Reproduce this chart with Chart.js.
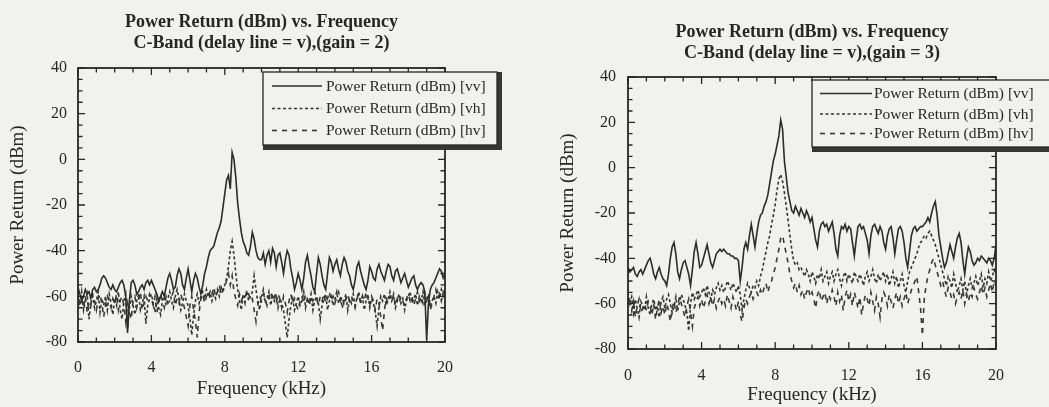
<!DOCTYPE html>
<html>
<head>
<meta charset="utf-8">
<script src="https://cdn.jsdelivr.net/npm/chart.js@4.4.1/dist/chart.umd.min.js"></script>
<style>
  html, body { margin: 0; padding: 0; width: 1049px; height: 407px; overflow: hidden; background: #f1f1ef; }
  canvas { position: absolute; top: 0; }
  #gain2 { left: 0; }
  #gain3 { left: 524px; }
</style>
</head>
<body>
<canvas id="gain2" width="524" height="407"></canvas>
<canvas id="gain3" width="525" height="407"></canvas>
<script>
// Spectra sampled every 0.1 kHz from 0 to 20 kHz (201 samples per trace).
const FREQ_STEP_KHZ = 0.1;

const seriesLabels = ['Power Return (dBm) [vv]', 'Power Return (dBm) [vh]', 'Power Return (dBm) [hv]'];
const titleGain2 = ['Power Return (dBm) vs. Frequency', 'C-Band (delay line = v),(gain = 2)'];
const titleGain3 = ['Power Return (dBm) vs. Frequency', 'C-Band (delay line = v),(gain = 3)'];
const xAxisTitle = 'Frequency (kHz)';
const yAxisTitle = 'Power Return (dBm)';
const xRange = [0, 20];
const yRange = [-80, 40];
const xTickStep = 4;
const yTickStep = 20;

// gain = 2
const gain2_vv = [
  -56,-59,-62,-60,-57,-59,-58,-61,-57,-56,
  -58,-57,-55,-52,-51,-52,-54,-56,-57,-55,
  -57,-58,-56,-54,-53,-55,-60,-76,-62,-54,
  -53,-55,-59,-58,-56,-55,-57,-54,-53,-55,
  -53,-55,-57,-59,-62,-60,-58,-60,-56,-52,
  -50,-53,-57,-56,-51,-48,-50,-55,-57,-52,
  -48,-53,-58,-53,-50,-52,-56,-59,-55,-50,
  -47,-43,-40,-39,-38,-35,-32,-30,-27,-21,
  -15,-9,-7,-13,3,0,-8,-19,-26,-32,
  -36,-38,-41,-42,-38,-32,-35,-40,-43,-44,
  -44,-41,-46,-42,-40,-45,-39,-41,-47,-42,
  -41,-45,-50,-44,-40,-42,-48,-52,-57,-54,
  -50,-53,-57,-52,-45,-42,-47,-51,-56,-58,
  -50,-43,-46,-51,-55,-57,-50,-43,-45,-49,
  -46,-44,-48,-51,-46,-43,-45,-49,-51,-55,
  -57,-53,-47,-45,-49,-52,-55,-57,-53,-47,
  -49,-52,-53,-48,-46,-49,-51,-53,-49,-46,
  -47,-51,-53,-49,-48,-51,-54,-52,-50,-53,
  -56,-54,-52,-51,-55,-57,-55,-54,-55,-58,
  -79,-63,-57,-55,-54,-52,-50,-48,-49,-52,
  -50
];
const gain2_vh = [
  -60,-64,-58,-66,-62,-59,-70,-63,-60,-65,
  -62,-58,-67,-61,-64,-60,-66,-59,-63,-68,
  -61,-64,-58,-66,-70,-62,-59,-74,-65,-60,
  -64,-68,-62,-59,-66,-63,-60,-72,-64,-61,
  -59,-63,-67,-61,-65,-68,-62,-60,-64,-61,
  -58,-62,-65,-60,-57,-61,-66,-63,-59,-62,
  -64,-70,-77,-68,-62,-59,-63,-60,-58,-61,
  -57,-60,-58,-62,-59,-61,-57,-60,-56,-58,
  -55,-52,-47,-40,-36,-42,-50,-57,-62,-66,
  -59,-61,-58,-62,-60,-58,-51,-57,-63,-66,
  -60,-57,-63,-61,-58,-64,-60,-62,-59,-65,
  -61,-63,-66,-72,-78,-70,-64,-61,-66,-63,
  -60,-64,-62,-58,-65,-61,-63,-59,-66,-62,
  -60,-63,-70,-64,-61,-59,-66,-62,-60,-64,
  -61,-58,-63,-60,-65,-62,-59,-66,-61,-63,
  -59,-64,-61,-58,-63,-60,-66,-62,-59,-65,
  -61,-63,-67,-73,-65,-60,-62,-59,-64,-61,
  -58,-62,-60,-65,-62,-59,-63,-61,-66,-62,
  -60,-58,-63,-61,-59,-64,-60,-62,-58,-63,
  -61,-59,-64,-62,-60,-63,-58,-61,-57,-60,
  -58
];
const gain2_hv = [
  -57,-63,-61,-65,-60,-67,-62,-64,-59,-62,
  -66,-61,-59,-63,-69,-64,-60,-62,-65,-61,
  -63,-59,-66,-62,-60,-64,-71,-63,-67,-70,
  -62,-60,-65,-61,-58,-66,-63,-60,-62,-59,
  -61,-64,-60,-67,-63,-59,-62,-65,-60,-63,
  -62,-60,-58,-64,-61,-63,-59,-62,-65,-69,
  -73,-64,-60,-66,-71,-78,-67,-61,-59,-63,
  -60,-58,-61,-59,-56,-60,-58,-55,-59,-57,
  -56,-53,-50,-55,-51,-58,-61,-64,-59,-62,
  -60,-63,-57,-59,-62,-61,-66,-71,-64,-60,
  -62,-59,-61,-64,-60,-58,-62,-60,-63,-59,
  -61,-65,-60,-63,-67,-62,-59,-63,-61,-64,
  -66,-62,-60,-63,-59,-61,-64,-60,-62,-58,
  -61,-64,-60,-62,-59,-63,-61,-58,-62,-60,
  -63,-60,-58,-62,-60,-64,-61,-59,-62,-60,
  -62,-65,-61,-59,-63,-60,-62,-58,-61,-64,
  -60,-62,-66,-61,-63,-69,-75,-66,-61,-63,
  -60,-62,-59,-64,-61,-63,-60,-62,-64,-61,
  -59,-62,-60,-64,-61,-58,-62,-60,-63,-59,
  -62,-60,-66,-63,-60,-57,-61,-59,-62,-58,
  -60
];

// gain = 3
const gain3_vv = [
  -44,-46,-45,-44,-47,-48,-46,-45,-47,-45,
  -43,-41,-40,-43,-47,-49,-46,-44,-47,-49,
  -50,-52,-47,-40,-35,-33,-38,-46,-49,-45,
  -42,-41,-44,-47,-52,-45,-37,-33,-38,-44,
  -43,-40,-37,-34,-38,-42,-44,-41,-38,-37,
  -36,-37,-36,-37,-38,-38,-39,-39,-40,-40,
  -41,-50,-44,-36,-33,-36,-30,-25,-30,-35,
  -29,-24,-21,-20,-17,-15,-12,-7,-2,3,
  6,10,14,21,17,3,-4,-11,-15,-19,
  -20,-17,-19,-21,-18,-20,-22,-19,-21,-24,
  -22,-27,-32,-35,-28,-25,-24,-26,-25,-28,
  -26,-24,-29,-36,-39,-30,-26,-27,-25,-28,
  -26,-27,-33,-39,-32,-26,-25,-27,-26,-29,
  -32,-38,-30,-26,-25,-27,-29,-26,-28,-33,
  -36,-30,-27,-26,-31,-38,-32,-27,-26,-28,
  -33,-40,-44,-37,-30,-27,-26,-28,-27,-26,
  -26,-25,-24,-22,-24,-20,-17,-15,-21,-30,
  -35,-40,-44,-42,-38,-34,-37,-40,-35,-31,
  -29,-33,-41,-47,-40,-35,-37,-41,-43,-42,
  -40,-41,-39,-40,-41,-42,-40,-41,-43,-40,
  -34
];
const gain3_vh = [
  -55,-60,-57,-64,-58,-62,-66,-59,-61,-63,
  -57,-62,-65,-60,-58,-63,-61,-66,-59,-57,
  -62,-58,-56,-60,-64,-61,-57,-63,-59,-56,
  -58,-61,-64,-72,-60,-55,-58,-56,-54,-57,
  -55,-53,-56,-52,-55,-58,-54,-56,-53,-51,
  -54,-52,-55,-53,-50,-52,-54,-51,-53,-55,
  -52,-56,-63,-58,-54,-51,-53,-55,-52,-53,
  -50,-52,-48,-45,-41,-37,-33,-30,-25,-21,
  -16,-10,-5,-3,-6,-11,-17,-23,-30,-36,
  -41,-43,-42,-45,-44,-46,-48,-45,-47,-50,
  -46,-48,-51,-47,-49,-45,-50,-48,-46,-51,
  -48,-46,-50,-47,-45,-49,-52,-48,-46,-50,
  -47,-49,-51,-46,-48,-50,-47,-49,-52,-48,
  -46,-50,-48,-45,-49,-51,-47,-50,-48,-46,
  -50,-47,-52,-49,-46,-51,-48,-53,-50,-47,
  -52,-55,-50,-46,-44,-42,-40,-38,-35,-33,
  -32,-30,-31,-29,-28,-30,-32,-34,-37,-40,
  -43,-46,-49,-52,-48,-50,-53,-47,-51,-55,
  -52,-49,-54,-50,-56,-52,-49,-53,-51,-48,
  -52,-50,-47,-53,-49,-51,-46,-50,-48,-45,
  -47
];
const gain3_hv = [
  -60,-57,-63,-59,-66,-61,-58,-64,-62,-60,
  -63,-59,-61,-65,-60,-67,-62,-58,-64,-61,
  -65,-60,-63,-68,-62,-59,-64,-61,-57,-60,
  -63,-66,-61,-58,-64,-70,-62,-59,-57,-61,
  -58,-62,-59,-56,-60,-57,-61,-58,-62,-59,
  -57,-60,-58,-61,-56,-59,-62,-57,-60,-63,
  -59,-65,-68,-62,-58,-60,-57,-55,-58,-56,
  -55,-57,-54,-56,-53,-51,-55,-52,-50,-47,
  -44,-40,-36,-31,-30,-34,-38,-42,-47,-50,
  -53,-51,-55,-52,-56,-54,-58,-55,-53,-57,
  -55,-58,-62,-56,-54,-59,-57,-55,-60,-56,
  -58,-54,-57,-61,-55,-59,-56,-63,-57,-54,
  -59,-56,-61,-55,-58,-62,-57,-65,-60,-56,
  -58,-61,-55,-59,-63,-57,-60,-66,-58,-55,
  -57,-61,-56,-59,-62,-58,-55,-60,-57,-61,
  -58,-55,-60,-57,-54,-52,-50,-48,-55,-62,
  -74,-58,-52,-48,-45,-42,-40,-43,-46,-49,
  -52,-50,-54,-57,-53,-55,-58,-56,-60,-57,
  -55,-58,-54,-60,-56,-59,-55,-57,-53,-56,
  -58,-55,-52,-56,-53,-57,-54,-51,-55,-50,
  -52
];

const INK = '#262626';
const PAPER = '#f1f1ef';
const SERIF = '"Liberation Serif", "Times New Roman", serif';

Chart.defaults.font.family = SERIF;
Chart.defaults.color = INK;

function toPoints(values) {
  return values.map((v, i) => ({ x: Math.round(i * FREQ_STEP_KHZ * 10) / 10, y: v }));
}

// Frame, inward tick marks on all four sides, centred title and boxed legend.
const panelDecor = {
  id: 'panelDecor',
  afterDraw(chart, args, opts) {
    const { ctx, chartArea: a } = chart;
    const x = chart.scales.x, y = chart.scales.y;
    ctx.save();

    // title
    ctx.fillStyle = INK;
    ctx.font = 'bold 18px ' + SERIF;
    ctx.textAlign = 'center';
    ctx.textBaseline = 'alphabetic';
    const cx = (a.left + a.right) / 2;
    opts.title.forEach((t, i) => ctx.fillText(t, cx, opts.titleBaselines[i]));

    // frame
    ctx.strokeStyle = INK;
    ctx.lineWidth = 1.8;
    ctx.strokeRect(a.left, a.top, a.right - a.left, a.bottom - a.top);

    // ticks: 1 kHz minor / 4 kHz major, 5 dB minor / 20 dB major
    ctx.lineWidth = 1.3;
    ctx.beginPath();
    for (let f = xRange[0]; f <= xRange[1]; f += 1) {
      const px = x.getPixelForValue(f);
      const len = f % xTickStep === 0 ? 7 : 4.5;
      ctx.moveTo(px, a.bottom); ctx.lineTo(px, a.bottom - len);
      ctx.moveTo(px, a.top); ctx.lineTo(px, a.top + len);
    }
    for (let v = yRange[0]; v <= yRange[1]; v += 5) {
      const py = y.getPixelForValue(v);
      const len = v % yTickStep === 0 ? 7 : 4.5;
      ctx.moveTo(a.left, py); ctx.lineTo(a.left + len, py);
      ctx.moveTo(a.right, py); ctx.lineTo(a.right - len, py);
    }
    ctx.stroke();

    // legend box with drop shadow
    const lg = opts.legend;
    ctx.fillStyle = '#363636';
    ctx.fillRect(lg.x, lg.y, lg.w + lg.shadow, lg.h + lg.shadow);
    ctx.fillStyle = PAPER;
    ctx.fillRect(lg.x, lg.y, lg.w, lg.h);
    ctx.strokeStyle = INK;
    ctx.lineWidth = 1.3;
    ctx.strokeRect(lg.x, lg.y, lg.w, lg.h);

    ctx.font = '15.5px ' + SERIF;
    ctx.textAlign = 'left';
    chart.data.datasets.forEach((ds, i) => {
      const base = lg.rows[i];
      const mid = base - 4.5;
      ctx.strokeStyle = ds.borderColor;
      ctx.lineWidth = ds.borderWidth;
      ctx.setLineDash(ds.borderDash || []);
      ctx.beginPath();
      ctx.moveTo(lg.lineFrom, mid);
      ctx.lineTo(lg.lineTo, mid);
      ctx.stroke();
      ctx.setLineDash([]);
      ctx.fillStyle = INK;
      ctx.fillText(ds.label, lg.textX, base);
    });
    ctx.restore();
  }
};

function makeChart(id, traces, layout) {
  const styles = [
    { color: '#2c2c2c', dash: [] },
    { color: '#353535', dash: [3, 2.5] },
    { color: '#3a3a3a', dash: [5, 5] }
  ];
  return new Chart(document.getElementById(id), {
    type: 'line',
    data: {
      datasets: traces.map((t, i) => ({
        label: seriesLabels[i],
        data: toPoints(t),
        borderColor: styles[i].color,
        borderDash: styles[i].dash,
        borderWidth: 1.6,
        pointRadius: 0,
        tension: 0,
        fill: false
      }))
    },
    options: {
      responsive: false,
      animation: false,
      events: [],
      layout: { padding: layout.padding },
      scales: {
        x: {
          type: 'linear',
          min: xRange[0], max: xRange[1],
          grid: { display: false, drawTicks: false },
          border: { display: false },
          ticks: { stepSize: xTickStep, padding: layout.xTickPad, font: { size: 16 }, color: INK, maxRotation: 0 },
          title: { display: true, text: xAxisTitle, font: { size: 19 }, color: INK, padding: { top: 0, bottom: layout.xTitlePad } },
          afterFit(scale) { scale.height = layout.xAxisHeight; }
        },
        y: {
          min: yRange[0], max: yRange[1],
          grid: { display: false, drawTicks: false },
          border: { display: false },
          ticks: { stepSize: yTickStep, padding: layout.yTickPad, font: { size: 16 }, color: INK },
          title: { display: true, text: yAxisTitle, font: { size: 19 }, color: INK, padding: { top: layout.yTitlePad, bottom: 0 } },
          afterFit(scale) { scale.width = layout.yAxisWidth; }
        }
      },
      plugins: {
        legend: { display: false },
        tooltip: { enabled: false },
        title: { display: false },
        panelDecor: {
          title: layout.title,
          titleBaselines: layout.titleBaselines,
          legend: layout.legend
        }
      }
    },
    plugins: [panelDecor]
  });
}

makeChart('gain2', [gain2_vv, gain2_vh, gain2_hv], {
  padding: { top: 68, right: 79, bottom: 0, left: 0 },
  xAxisHeight: 65, yAxisWidth: 78,
  xTickPad: 16, yTickPad: 11, xTitlePad: 7, yTitlePad: 6.6,
  title: titleGain2, titleBaselines: [27, 48],
  legend: { x: 263, y: 72, w: 234, h: 73, shadow: 5, rows: [90.5, 113, 135], lineFrom: 272, lineTo: 322, textX: 326 }
});

makeChart('gain3', [gain3_vv, gain3_vh, gain3_hv], {
  padding: { top: 77, right: 53, bottom: 0, left: 0 },
  xAxisHeight: 58, yAxisWidth: 104,
  xTickPad: 17, yTickPad: 12, xTitlePad: 0.5, yTitlePad: 32.6,
  title: titleGain3, titleBaselines: [37, 58],
  legend: { x: 288, y: 80, w: 260, h: 67, shadow: 5, rows: [98, 118.5, 138], lineFrom: 296, lineTo: 348, textX: 350 }
});
</script>
</body>
</html>
